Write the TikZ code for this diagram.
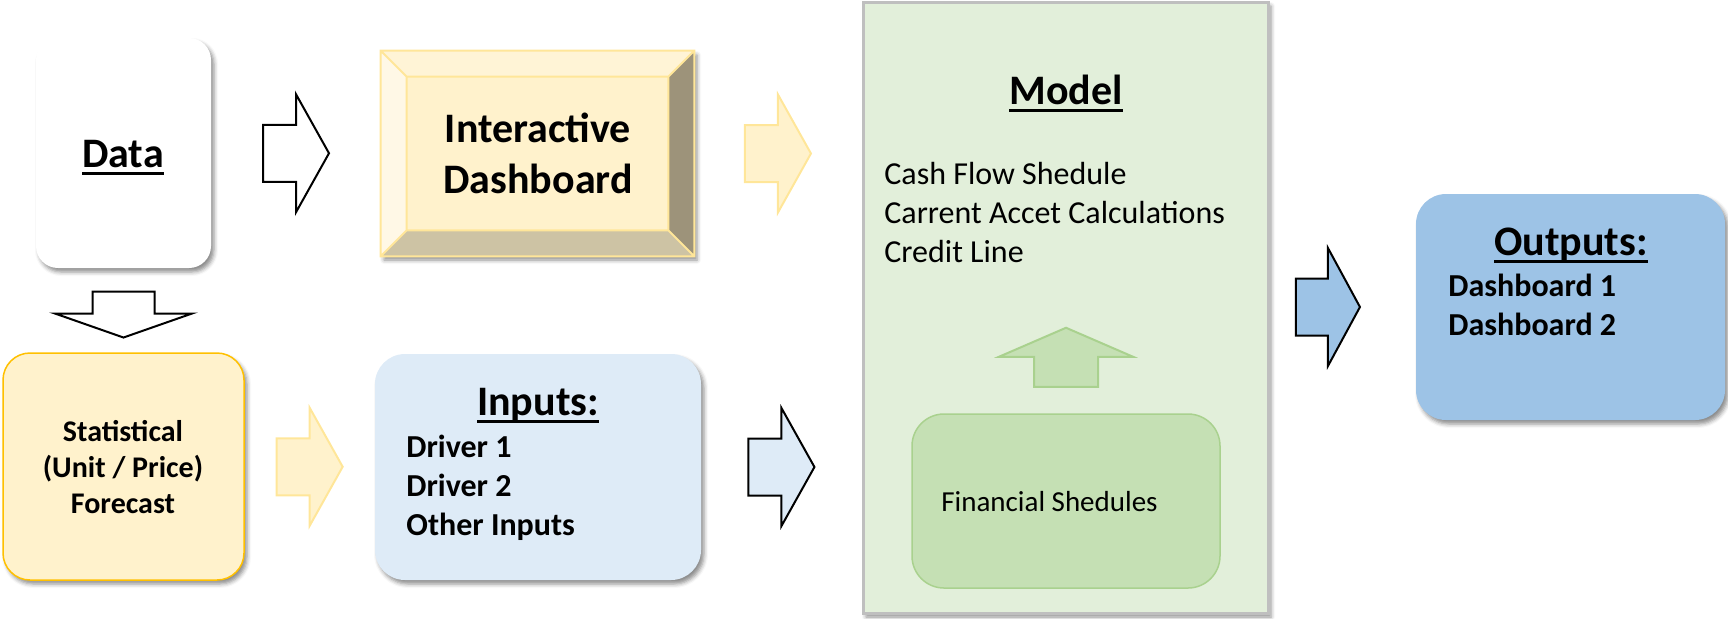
\documentclass[tikz,border=0pt]{standalone}
\usepackage{fontspec}
\setmainfont{Carlito}
\usetikzlibrary{calc,shadows.blur}

% underlined title: rule sits a fixed distance under the baseline
\newcommand\ulttl[1]{\setbox0\hbox{#1}\dp0=0pt\vtop{\box0\kern2.6pt\hrule height1.4pt}}

\definecolor{dashface}{HTML}{FFF2CC}
\definecolor{dashline}{HTML}{FFE699}
\definecolor{bevtop}{HTML}{FFF4D6}
\definecolor{bevleft}{HTML}{FFF8E6}
\definecolor{bevright}{HTML}{9D937A}
\definecolor{bevbot}{HTML}{CDC3A4}
\definecolor{statline}{HTML}{FFC000}
\definecolor{inputfill}{HTML}{DEEBF7}
\definecolor{modelfill}{HTML}{E2EFDA}
\definecolor{modelline}{HTML}{BFBFBF}
\definecolor{finfill}{HTML}{C5E0B4}
\definecolor{finline}{HTML}{A9D18E}
\definecolor{outfill}{HTML}{9DC3E6}

\tikzset{
  box/.style={rounded corners=#1, inner sep=0pt},
  shade box/.style={blur shadow={shadow xshift=1.5pt, shadow yshift=-2pt,
      shadow blur radius=2pt, shadow opacity=45}},
  head/.style={font=\fontsize{21}{25.5}\selectfont\bfseries, inner sep=0pt, anchor=base},
  body/.style={font=\fontsize{16}{19.5}\selectfont\bfseries, inner sep=0pt,
      align=left, anchor=base west},
  % block arrow centred on its position: length, head length, head width, shaft width
  pics/blockarrow/.style n args={4}{code={
      \path[pic actions] (-#1/2,-#4/2) -- (#1/2-#2,-#4/2) -- (#1/2-#2,-#3/2) -- (#1/2,0)
        -- (#1/2-#2,#3/2) -- (#1/2-#2,#4/2) -- (-#1/2,#4/2) -- cycle;
  }}
}

\begin{document}
\begin{tikzpicture}[x=0.5pt, y=-0.5pt]
  \useasboundingbox (0,0) rectangle (1728,618);

  % data
  \node[box=11pt, shade box, fill=white, minimum width=87.5pt, minimum height=115pt]
    (data) at (123.5,153) {};
  \node[head] (datattl) at (123,167) {\ulttl{Data}};

  % dashboard, a bevelled button
  \node[shade box, fill=dashface, inner sep=0pt, minimum width=156.5pt, minimum height=102.5pt]
    (dash) at (537.5,153.5) {};
  \coordinate (i1) at ($(dash.north west)+(26,26)$);
  \coordinate (i2) at ($(dash.north east)+(-26,26)$);
  \coordinate (i3) at ($(dash.south east)+(-26,-26)$);
  \coordinate (i4) at ($(dash.south west)+(26,-26)$);
  \fill[bevtop] (dash.north west) -- (dash.north east) -- (i2) -- (i1) -- cycle;
  \fill[bevright] (dash.north east) -- (dash.south east) -- (i3) -- (i2) -- cycle;
  \fill[bevbot] (dash.south east) -- (dash.south west) -- (i4) -- (i3) -- cycle;
  \fill[bevleft] (dash.south west) -- (dash.north west) -- (i1) -- (i4) -- cycle;
  \draw[dashline, line width=1pt] (dash.north west) rectangle (dash.south east)
    (i1) rectangle (i3)
    (dash.north west) -- (i1) (dash.north east) -- (i2)
    (dash.south east) -- (i3) (dash.south west) -- (i4);
  \node[head, align=center] (dashttl) at (538,193) {Interactive\\Dashboard};

  % forecast
  \node[box=13.5pt, shade box, fill=dashface, draw=statline, line width=0.75pt,
    minimum width=120.5pt, minimum height=113.5pt] (stat) at (123.5,466.5) {};
  \node[font=\fontsize{15}{18}\selectfont\bfseries, align=center, inner sep=0pt, anchor=base]
    (stattxt) at (123,513) {Statistical\\(Unit / Price)\\Forecast};

  % inputs
  \node[box=15pt, shade box, fill=inputfill, minimum width=163pt, minimum height=113pt]
    (inputs) at (538,467) {};
  \node[head] (inputsttl) at (538,415) {\ulttl{Inputs:}};
  \node[body] (inputstxt) at (406,535) {Driver 1\\Driver 2\\Other Inputs};

  % model
  \node[shade box, fill=modelfill, draw=modelline, line width=1.5pt, inner sep=0pt,
    minimum width=202.5pt, minimum height=305.5pt] (model) at (1065.5,307.5) {};
  \node[head] (modelttl) at (1066,104) {\ulttl{Model}};
  \node[body, font=\fontsize{16}{19.5}\selectfont] (modeltxt) at (884,262)
    {Cash Flow Shedule\\Carrent Accet Calculations\\Credit Line};
  \node[box=16pt, fill=finfill, draw=finline, line width=0.75pt,
    minimum width=154pt, minimum height=87pt] (fin) at (1066,501) {};
  \node[body, font=\fontsize{14.5}{17}\selectfont] (fintxt) at (941,511) {Financial Shedules};

  % outputs
  \node[box=15pt, shade box, fill=outfill, minimum width=154.5pt, minimum height=113pt]
    (outputs) at (1570.5,307) {};
  \node[head] (outputsttl) at (1571,255) {\ulttl{Outputs:}};
  \node[body] (outputstxt) at (1448,335) {Dashboard 1\\Dashboard 2};

  % block arrows
  \pic[draw=black, fill=white, line width=1pt] at ($(data.east)!.5!(dash.west)$)
    {blockarrow={66}{33}{118}{57}};
  \pic[draw=dashline, fill=dashface, line width=1pt] at ($(dash.east)!.5!(model.west |- dash.east)$)
    {blockarrow={66}{33}{118}{57}};
  \pic[rotate=-90, draw=black, fill=white, line width=1pt] at ($(data.south)!.55!(stat.north)$)
    {blockarrow={46}{24}{137}{62}};
  \pic[draw=dashline, fill=dashface, line width=1pt] at ($(stat.east)!.5!(inputs.west)$)
    {blockarrow={66}{33}{118}{57}};
  \pic[draw=black, fill=inputfill, line width=1pt] at ($(inputs.east)!.5!(model.west |- inputs.east)$)
    {blockarrow={66}{33}{118}{57}};
  \pic[rotate=90, draw=finline, fill=finfill, line width=1pt] at ($(fin.north)+(0,-56)$)
    {blockarrow={59}{29}{134}{64}};
  \pic[draw=black, fill=outfill, line width=1pt] at ($(model.east |- outputs.west)!.4!(outputs.west)$)
    {blockarrow={64}{32}{118}{57}};

\end{tikzpicture}
\end{document}
